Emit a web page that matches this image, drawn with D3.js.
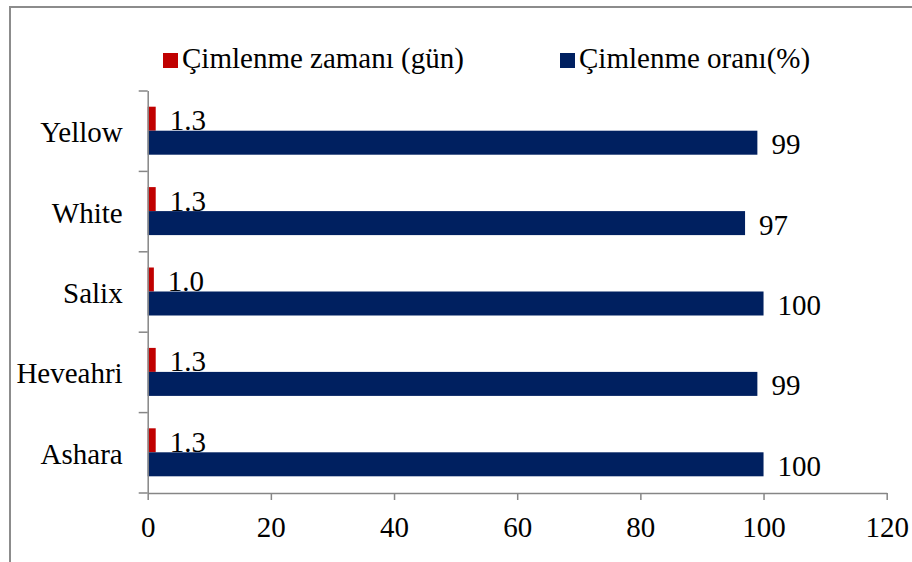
<html>
<head>
    <meta charset="utf-8">
</head>
<body style="margin:0; background:#fff">
<script src="https://cdn.jsdelivr.net/npm/d3@7/dist/d3.min.js"></script>
<script>
    // categories, top to bottom as in the picture
    var categories = ["Yellow", "White", "Salix", "Heveahri", "Ashara"];
    var seriesNames = ["Çimlenme zamanı (gün)", "Çimlenme oranı(%)"];
    var zamani = [1.3, 1.3, 1.0, 1.3, 1.3];
    var orani = [99, 97, 100, 99, 100];
    var xTicks = [0, 20, 40, 60, 80, 100, 120];
    var colors = ["#C00000", "#002060"];

    var width = 912;
    var height = 562;
    var FONT = "Liberation Serif";

    var svg = d3.select("body").append("svg")
            .attr("width", width)
            .attr("height", height)
            .attr("font-family", FONT)
            .attr("font-size", 29);

    // outer frame (runs off the right and bottom edge)
    svg.append("rect")
            .attr("x", 10)
            .attr("y", 7)
            .attr("width", 1000)
            .attr("height", 700)
            .attr("fill", "none")
            .attr("stroke", "#8c8c8c")
            .attr("stroke-width", 2);

    var x = d3.scaleLinear()
            .domain([0, 120])
            .range([147.7, 886.7]);

    var y = d3.scaleBand()
            .domain(categories)
            .range([90.5, 492.5])
            .paddingInner(0.403)
            .paddingOuter(0.2015);

    var ySub = d3.scaleBand()
            .domain([0, 1])
            .range([0, y.bandwidth()]);

    // rows built from the arrays
    var rows = categories.map(function (c, i) {
        return {cat: c, vals: [zamani[i], orani[i]]};
    });

    var g = svg.selectAll(".row")
            .data(rows)
            .enter()
            .append("g")
            .attr("class", "row")
            .attr("transform", function (d) {
                return "translate(0," + y(d.cat) + ")";
            });

    g.selectAll("rect")
            .data(function (d) { return d.vals; })
            .enter()
            .append("rect")
            .attr("x", x(0))
            .attr("y", function (d, i) { return ySub(i); })
            .attr("width", function (d) { return x(d) - x(0); })
            .attr("height", ySub.bandwidth())
            .attr("fill", function (d, i) { return colors[i]; });

    g.selectAll("text")
            .data(function (d) { return d.vals; })
            .enter()
            .append("text")
            .attr("x", function (d) { return x(d) + 14; })
            .attr("y", function (d, i) { return ySub(i) + ySub.bandwidth() / 2 + 11.5; })
            .text(function (d, i) { return i === 0 ? d3.format(".1f")(d) : d3.format("d")(d); });

    // x axis
    var xAxis = svg.append("g")
            .attr("transform", "translate(0,493)")
            .call(d3.axisBottom(x).tickValues(xTicks).tickSize(7).tickSizeOuter(0));
    xAxis.attr("font-family", FONT).attr("font-size", 29);
    xAxis.selectAll("line, path").attr("stroke", "#868686").attr("stroke-width", 1.5);
    xAxis.selectAll("text")
            .attr("dy", null)
            .attr("y", 44)
            .attr("fill", "#000");

    // y axis: ticks at the band edges, labels at band centres
    var yEdge = d3.scaleLinear().domain([0, categories.length]).range([90.5, 492.5]);
    var yAxis = svg.append("g")
            .attr("transform", "translate(" + x(0) + ",0)")
            .call(d3.axisLeft(yEdge).ticks(categories.length).tickFormat("").tickSize(9).tickSizeOuter(0));
    yAxis.selectAll("line, path").attr("stroke", "#868686").attr("stroke-width", 1.5);

    svg.selectAll(".cat")
            .data(categories)
            .enter()
            .append("text")
            .attr("class", "cat")
            .attr("text-anchor", "end")
            .attr("x", x(0) - 25)
            .attr("y", function (d) { return y(d) + y.bandwidth() / 2 + 11.5; })
            .text(function (d) { return d; });

    // legend
    var legendX = [163, 560];
    var legend = svg.selectAll(".legend")
            .data(seriesNames)
            .enter()
            .append("g")
            .attr("class", "legend")
            .attr("transform", function (d, i) { return "translate(" + legendX[i] + ",0)"; });
    legend.append("rect")
            .attr("x", 0)
            .attr("y", 53)
            .attr("width", 15)
            .attr("height", 15)
            .attr("fill", function (d, i) { return colors[i]; });
    legend.append("text")
            .attr("x", 19)
            .attr("y", 68)
            .text(function (d) { return d; });
</script>
</body>
</html>
